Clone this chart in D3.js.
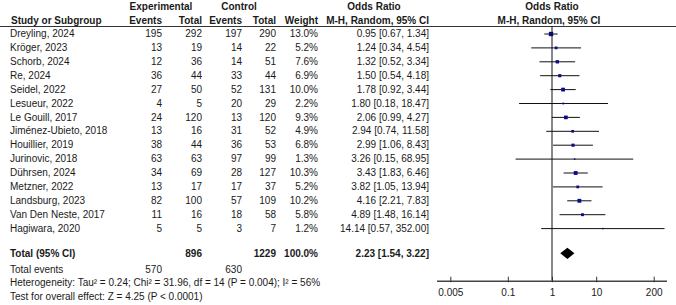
<!DOCTYPE html>
<html>
<head>
<meta charset="utf-8">
<script src="https://cdn.jsdelivr.net/npm/d3@7"></script>
<style>
  body { margin: 0; background: #fff; }
  svg text { font-family: "Liberation Sans", Arial, sans-serif; font-size: 10px; fill: #1a1a1a; }
  .bold { font-weight: bold; }
</style>
</head>
<body>
<script>
// data
const studies = ["Dreyling, 2024", "Kröger, 2023", "Schorb, 2024", "Re, 2024", "Seidel, 2022",
  "Lesueur, 2022", "Le Gouill, 2017", "Jiménez-Ubieto, 2018", "Houillier, 2019", "Jurinovic, 2018",
  "Dührsen, 2024", "Metzner, 2022", "Landsburg, 2023", "Van Den Neste, 2017", "Hagiwara, 2020"];
const expEvents = [195, 13, 12, 36, 27, 4, 24, 13, 38, 63, 34, 13, 82, 11, 5];
const expTotal = [292, 19, 36, 44, 50, 5, 120, 16, 44, 63, 69, 17, 100, 16, 5];
const ctrlEvents = [197, 14, 14, 33, 52, 20, 13, 31, 36, 97, 28, 17, 57, 18, 3];
const ctrlTotal = [290, 22, 51, 44, 131, 29, 120, 52, 53, 99, 127, 37, 109, 58, 7];
const weights = [13.0, 5.2, 7.6, 6.9, 10.0, 2.2, 9.3, 4.9, 6.8, 1.3, 10.3, 5.2, 10.2, 5.8, 1.2];
const oddsRatio = [0.95, 1.24, 1.32, 1.50, 1.78, 1.80, 2.06, 2.94, 2.99, 3.26, 3.43, 3.82, 4.16, 4.89, 14.14];
const ciLow = [0.67, 0.34, 0.52, 0.54, 0.92, 0.18, 0.99, 0.74, 1.06, 0.15, 1.83, 1.05, 2.21, 1.48, 0.57];
const ciHigh = [1.34, 4.54, 3.34, 4.18, 3.44, 18.47, 4.27, 11.58, 8.43, 68.95, 6.46, 13.94, 7.83, 16.14, 352.00];

const pooled = { or: 2.23, lo: 1.54, hi: 3.22, expTotal: 896, ctrlTotal: 1229, expEvents: 570, ctrlEvents: 630 };
const tickValues = [0.005, 0.1, 1, 10, 200];
const heterogeneity = "Heterogeneity: Tau² = 0.24; Chi² = 31.96, df = 14 (P = 0.004); I² = 56%";
const overall = "Test for overall effect: Z = 4.25 (P < 0.0001)";

const width = 676, height = 305;
const svg = d3.select("body").append("svg")
  .attr("width", width)
  .attr("height", height);

// columns (right edges for numbers)
const col = { label: 10, expEv: 162, expTot: 202, ctrlEv: 242, ctrlTot: 276, weight: 318, or: 429 };

const rowY = d3.scaleLinear().domain([0, 1]).range([33.5, 47.4]);
const totalY = 253.3;
const axisY = 280.7;

const x = d3.scaleLog().domain([1 / 400, 400]).range([437, 667]);
const fmt2 = d3.format(".2f");

// headers
const head = svg.append("g");
const hText = (t, xx, y, anchor) => head.append("text")
  .attr("class", "bold").attr("x", xx).attr("y", y)
  .attr("text-anchor", anchor).text(t);

hText("Experimental", 161, 9.5, "middle");
hText("Control", 239, 9.5, "middle");
hText("Odds Ratio", 374, 9.5, "middle");
hText("Odds Ratio", 552, 9.5, "middle");
hText("Study or Subgroup", 11, 23.5, "start");
hText("Events", col.expEv, 23.5, "end");
hText("Total", col.expTot, 23.5, "end");
hText("Events", col.ctrlEv, 23.5, "end");
hText("Total", col.ctrlTot, 23.5, "end");
hText("Weight", col.weight, 23.5, "end");
hText("M-H, Random, 95% CI", col.or, 23.5, "end");
hText("M-H, Random, 95% CI", 549, 23.5, "middle");

svg.append("line")
  .attr("x1", 0).attr("x2", width)
  .attr("y1", 26.5).attr("y2", 26.5)
  .style("stroke", "#333").style("stroke-width", 1);

// study rows
const rows = svg.append("g").selectAll("g")
  .data(studies).enter()
  .append("g")
  .attr("transform", (d, i) => `translate(0, ${rowY(i)})`);

const cell = (fn, xx, anchor) => rows.append("text")
  .attr("x", xx).attr("y", 3.6)
  .attr("text-anchor", anchor)
  .text(fn);

cell((d) => d, col.label, "start");
cell((d, i) => expEvents[i], col.expEv, "end");
cell((d, i) => expTotal[i], col.expTot, "end");
cell((d, i) => ctrlEvents[i], col.ctrlEv, "end");
cell((d, i) => ctrlTotal[i], col.ctrlTot, "end");
cell((d, i) => weights[i].toFixed(1) + "%", col.weight, "end");
cell((d, i) => `${fmt2(oddsRatio[i])} [${fmt2(ciLow[i])}, ${fmt2(ciHigh[i])}]`, col.or, "end");

// null line at OR = 1
svg.append("line")
  .attr("x1", x(1)).attr("x2", x(1))
  .attr("y1", 26.5).attr("y2", axisY)
  .style("stroke", "#111").style("stroke-width", 1);

// confidence intervals
rows.append("line")
  .attr("x1", (d, i) => x(Math.max(ciLow[i], x.domain()[0])))
  .attr("x2", (d, i) => x(Math.min(ciHigh[i], x.domain()[1])))
  .attr("y1", 0.5).attr("y2", 0.5)
  .style("stroke", "#111").style("stroke-width", 1);

// weighted squares
const side = (w) => Math.max(1.5, 1.2 * Math.sqrt(w));
rows.append("rect")
  .attr("x", (d, i) => x(oddsRatio[i]) - side(weights[i]) / 2)
  .attr("y", (d, i) => 0.5 - side(weights[i]) / 2)
  .attr("width", (d, i) => side(weights[i]))
  .attr("height", (d, i) => side(weights[i]))
  .style("fill", "#0a0a8c");

// total row
const tot = svg.append("g").attr("transform", `translate(0, ${totalY})`);
tot.append("text").attr("class", "bold").attr("x", col.label).attr("y", 3.6).text("Total (95% CI)");
tot.append("text").attr("class", "bold").attr("x", col.expTot).attr("y", 3.6).attr("text-anchor", "end").text(pooled.expTotal);
tot.append("text").attr("class", "bold").attr("x", col.ctrlTot).attr("y", 3.6).attr("text-anchor", "end").text(pooled.ctrlTotal);
tot.append("text").attr("class", "bold").attr("x", col.weight).attr("y", 3.6).attr("text-anchor", "end").text("100.0%");
tot.append("text").attr("class", "bold").attr("x", col.or).attr("y", 3.6).attr("text-anchor", "end")
  .text(`${fmt2(pooled.or)} [${fmt2(pooled.lo)}, ${fmt2(pooled.hi)}]`);

tot.append("path")
  .attr("d", `M${x(pooled.lo)},0 L${x(pooled.or)},-5.6 L${x(pooled.hi)},0 L${x(pooled.or)},5.6 Z`)
  .style("fill", "#000");

const ev = svg.append("g").attr("transform", "translate(0, 269.3)");
ev.append("text").attr("x", col.label).attr("y", 3.6).text("Total events");
ev.append("text").attr("x", col.expEv).attr("y", 3.6).attr("text-anchor", "end").text(pooled.expEvents);
ev.append("text").attr("x", col.ctrlEv).attr("y", 3.6).attr("text-anchor", "end").text(pooled.ctrlEvents);

svg.append("text").attr("x", col.label).attr("y", 286).text(heterogeneity);
svg.append("text").attr("x", col.label).attr("y", 299.6).text(overall);

// log axis
const axis = svg.append("g")
  .attr("transform", `translate(0, ${axisY})`)
  .call(d3.axisBottom(x).tickValues(tickValues).tickFormat((d) => String(d)).tickSize(0).tickPadding(8));

axis.select(".domain").attr("d", `M${x.range()[0]},0.5H${x.range()[1]}`)
  .style("stroke", "#444").style("stroke-width", 1.4);
axis.selectAll(".tick text")
  .style("font-family", "'Liberation Sans', Arial, sans-serif")
  .style("font-size", "10px").style("fill", "#1a1a1a");
axis.selectAll(".tick").append("line")
  .attr("y1", -4).attr("y2", 1.5)
  .style("stroke", "#333");
</script>
</body>
</html>
